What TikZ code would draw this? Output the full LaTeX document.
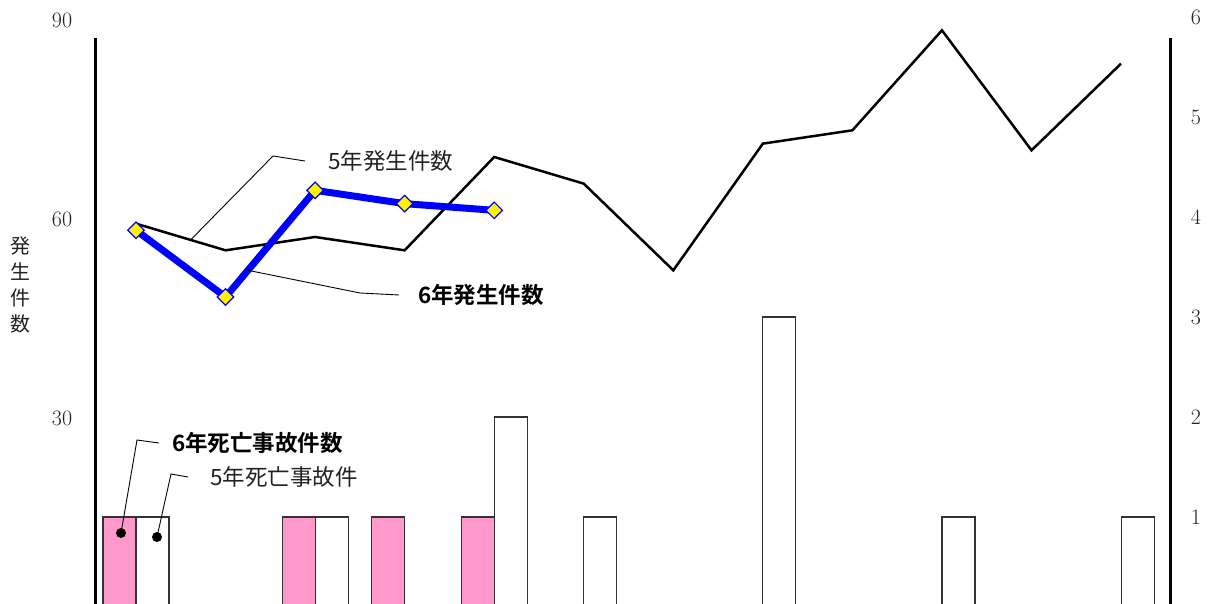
\documentclass[tikz,border=0pt]{standalone}
\usepackage{fontspec}
\newfontfamily\cjk{Noto Sans CJK JP}
\newfontfamily\cjkbold{Noto Sans CJK JP Bold}
\usetikzlibrary{shapes.geometric,calc}
\definecolor{barpink}{HTML}{FF99CC}
\definecolor{tickgray}{HTML}{222222}

\begin{document}
\begin{tikzpicture}[x=1pt,y=-1pt,
    tick/.style={text=tickgray,font=\fontsize{22}{22}\selectfont},
    thinlbl/.style={anchor=west,inner sep=0pt,text=tickgray,font=\cjk\fontsize{22.5}{22.5}\selectfont},
    boldlbl/.style={anchor=west,inner sep=0pt,font=\cjkbold\fontsize{22.5}{22.5}\selectfont},
    bar5/.style={draw=black!80,line width=1.1pt,fill=white},
    bar6/.style={draw=black!80,line width=1.1pt,fill=barpink},
    mark6/.style={diamond,draw=blue,fill=yellow,line width=1.2pt,minimum size=17pt,inner sep=0pt},
    leader/.style={draw,line width=0.9pt},
    dot/.style={circle,fill=black,minimum size=10pt,inner sep=0pt}]
    \clip (0,0) rectangle (1225,604);
    % axes
    \coordinate (lt) at (95,38);
    \coordinate (lb) at (95,610);
    \coordinate (rt) at (1170,38);
    \coordinate (rb) at (1170,610);
    \draw[line width=3pt] (lt) -- (lb);
    \draw[line width=3pt] (rt) -- (rb);
    \foreach \v/\l in {0/90,1/60,2/30}
        \node[tick] (tl\v) at (62,{20+199*\v}) {\l};
    \foreach \v in {1,...,6}
        \node[tick] (tr\v) at (1196,{617-100*\v}) {\v};
    \node[text=tickgray,font=\cjk\fontsize{20}{26}\selectfont,align=center] (ylbl) at (20,285) {発\\生\\件\\数};
    % bars (right axis)
    \foreach \i/\h in {1/1,3/1,4/1,5/1}
        \draw[bar6] ({136+89.55*(\i-1)-33},{617-100*\h}) rectangle ({136+89.55*(\i-1)},620);
    \foreach \i/\h in {1/1,3/1,5/2,6/1,8/3,10/1,12/1}
        \draw[bar5] ({136+89.55*(\i-1)},{617-100*\h}) rectangle ({136+89.55*(\i-1)+33},620);
    % 5年発生件数
    \foreach \i/\v in {1/59,2/55,3/57,4/55,5/69,6/65,7/52,8/71,9/73,10/88,11/70,12/83}
        \coordinate (a\i) at ({136+89.55*(\i-1)},{617-6.667*\v});
    \draw[line width=2.5pt,line join=miter] (a1) \foreach \i in {2,...,12} { -- (a\i) };
    % 6年発生件数
    \foreach \i/\v in {1/58,2/48,3/64,4/62,5/61}
        \coordinate (b\i) at ({136+89.55*(\i-1)},{617-6.667*\v});
    \draw[blue,line width=7pt] (b1) \foreach \i in {2,...,5} { -- (b\i) };
    \foreach \i in {1,...,5}
        \node[mark6] (m\i) at (b\i) {};
    % labels
    \node[thinlbl] (lbl5) at (328,161) {5年発生件数};
    \node[boldlbl] (lbl6) at (418,295) {6年発生件数};
    \node[boldlbl] (lbld6) at (172,443) {6年死亡事故件数};
    \node[thinlbl] (lbld5) at (210,477) {5年死亡事故件};
    \coordinate (k5) at ($(a1)!0.61!(a2)$);
    \coordinate (k6) at ($(b2)!0.25!(b3)$);
    \node[dot] (d6) at (121,533) {};
    \node[dot] (d5) at (157,537) {};
    \draw[leader] (k5) -- (273,156) -- ([xshift=-23pt]lbl5.west);
    \draw[leader] (k6) -- (360,293) -- ([xshift=-19pt]lbl6.west);
    \draw[leader] (d6.center) -- (137,440) -- ([xshift=-13pt]lbld6.west);
    \draw[leader] (d5.center) -- (171,474) -- ([xshift=-22pt]lbld5.west);
\end{tikzpicture}
\end{document}
